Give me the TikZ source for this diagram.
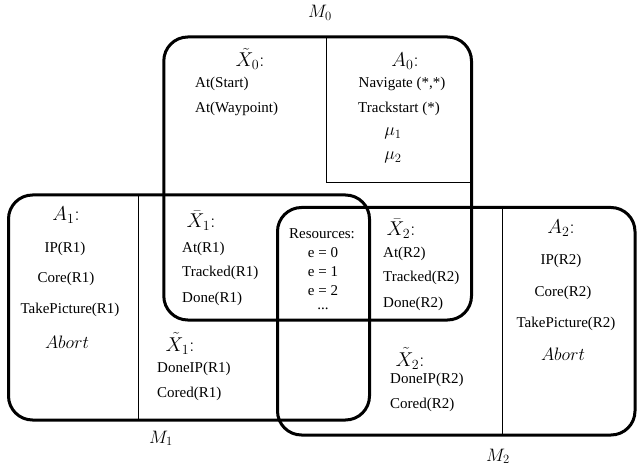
\RequirePackage{fix-cm}
\documentclass[tikz,border=0pt]{standalone}
\usepackage[no-math]{fontspec}
\setmainfont{Liberation Serif}
\tikzset{
  region/.style={draw, line width=3pt, rounded corners=24pt, inner sep=0pt},
  divider/.style={line width=0.9pt},
  item/.style={font=\fontsize{15}{18}\selectfont, inner sep=0pt, anchor=base},
  itemL/.style={item, anchor=base west},
  head/.style={font=\fontsize{20}{24}\selectfont, inner sep=0pt, anchor=base},
  sym/.style={font=\fontsize{18}{22}\selectfont, inner sep=0pt, anchor=base},
  tag/.style={font=\fontsize{18}{22}\selectfont, inner sep=0pt, anchor=base},
}
\begin{document}
\begin{tikzpicture}[x=1pt,y=-1pt]
\useasboundingbox (0,0) rectangle (637,470);

% the three overlapping modules
\node[region, minimum width=307.7pt, minimum height=283pt] (m0) at (317.65,178.5) {};
\node[region, minimum width=361pt, minimum height=225pt] (m1) at (189,307.5) {};
\node[region, minimum width=357.5pt, minimum height=227.5pt] (m2) at (456.25,321.25) {};

% inner partitions
\draw[divider] (326.7,37) -- (326.7,182) -- (471.5,182);
\draw[divider] (138.3,195) -- (138.3,420);
\draw[divider] (502.7,207.5) -- (502.7,435);

% module labels
\node[tag] (lm0) at (320,18) {$M_0$};
\node[tag] (lm1) at (161,443) {$M_1$};
\node[tag] (lm2) at (498,461) {$M_2$};

% M0: state and actions
\node[head] (x0h) at (250,67) {$\tilde{X}_0{:}$};
\node[itemL] (x0a) at (195,88) {At(Start)};
\node[itemL] (x0b) at (195,113) {At(Waypoint)};
\node[head] (a0h) at (405,67) {$A_0{:}$};
\node[item] (a0a) at (402,88) {Navigate (*,*)};
\node[item] (a0b) at (399,113) {Trackstart (*)};
\node[sym] (a0c) at (393,136) {$\mu_1$};
\node[sym] (a0d) at (393,160) {$\mu_2$};

% M1: actions
\node[head] (a1h) at (66,221) {$A_1{:}$};
\node[item] (a1a) at (65,253) {IP(R1)};
\node[item] (a1b) at (66,283) {Core(R1)};
\node[item] (a1c) at (70,313) {TakePicture(R1)};
\node[sym] (a1d) at (67,348) {$Abort$};

% M1: shared and private state
\node[head] (x1bh) at (201,228) {$\bar{X}_1{:}$};
\node[itemL] (x1ba) at (182,253) {At(R1)};
\node[itemL] (x1bb) at (182,277) {Tracked(R1)};
\node[itemL] (x1bc) at (182,302) {Done(R1)};
\node[head] (x1th) at (180,351) {$\tilde{X}_1{:}$};
\node[itemL] (x1ta) at (157,372) {DoneIP(R1)};
\node[itemL] (x1tb) at (157,397) {Cored(R1)};

% resources common to all modules
\node[item] (res) at (322,239) {Resources:};
\node[item] (e0) at (323,258) {e = 0};
\node[item] (e1) at (323,277) {e = 1};
\node[item] (e2) at (323,296) {e = 2};
\node[item] (edots) at (323,309) {...};

% M2: shared and private state
\node[head] (x2bh) at (401,236) {$\bar{X}_2{:}$};
\node[itemL] (x2ba) at (383,258) {At(R2)};
\node[itemL] (x2bb) at (383,282) {Tracked(R2)};
\node[itemL] (x2bc) at (383,308) {Done(R2)};
\node[head] (x2th) at (410,366) {$\tilde{X}_2{:}$};
\node[itemL] (x2ta) at (390,383) {DoneIP(R2)};
\node[itemL] (x2tb) at (390,408) {Cored(R2)};

% M2: actions
\node[head] (a2h) at (561,234) {$A_2{:}$};
\node[item] (a2a) at (561,265) {IP(R2)};
\node[item] (a2b) at (563,297) {Core(R2)};
\node[item] (a2c) at (566,327) {TakePicture(R2)};
\node[sym] (a2d) at (563,360) {$Abort$};
\end{tikzpicture}
\end{document}
